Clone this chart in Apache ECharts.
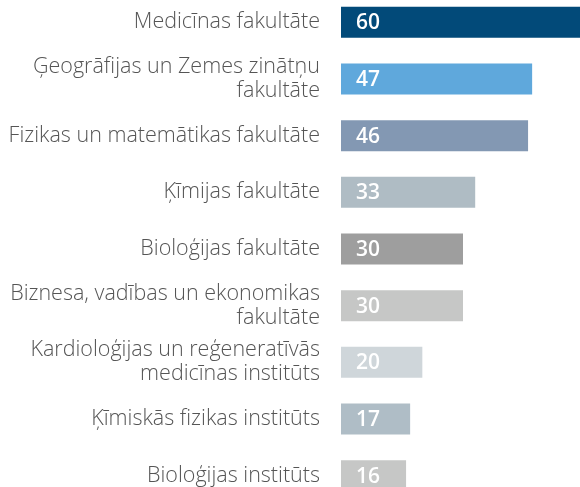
<!DOCTYPE html>
<html>
<head>
<meta charset="utf-8">
<script src="https://cdn.jsdelivr.net/npm/echarts@6/dist/echarts.min.js"></script>
<style>html,body{margin:0;padding:0;background:#fff;overflow:hidden}#c{width:580px;height:487px}</style>
</head>
<body>
<div id="c"></div>
<script>
const categories = [
  "Medicīnas fakultāte",
  "Ģeogrāfijas un Zemes zinātņu\nfakultāte",
  "Fizikas un matemātikas fakultāte",
  "Ķīmijas fakultāte",
  "Bioloģijas fakultāte",
  "Biznesa, vadības un ekonomikas\nfakultāte",
  "Kardioloģijas un reģeneratīvās\nmedicīnas institūts",
  "Ķīmiskās fizikas institūts",
  "Bioloģijas institūts"
];
const values = [60, 47, 46, 33, 30, 30, 20, 17, 16];
const colors = ["#024A79", "#5FA8DC", "#8398B3", "#AFBCC4", "#9E9E9E", "#C6C7C6", "#CFD6DA", "#AFBDC6", "#C6C7C6"];

const chart = echarts.init(document.getElementById('c'), null, {renderer: 'canvas'});
chart.setOption({
  animation: false,
  grid: {left: 341, right: -5, top: -6, bottom: -17, containLabel: false, outerBoundsMode: 'none'},
  xAxis: {type: 'value', min: 0, max: 60, show: false},
  yAxis: {
    type: 'category', data: categories, inverse: true,
    axisLine: {show: false}, axisTick: {show: false}, splitLine: {show: false},
    axisLabel: {
      margin: 21, fontFamily: 'Open Sans', fontWeight: 300, fontSize: 21.5, color: '#555555',
      align: 'right', lineHeight: 24, interval: 0
    }
  },
  series: [{
    type: 'bar', barWidth: 31, clip: false,
    data: values.map((v, i) => ({value: v, itemStyle: {color: colors[i]}})),
    label: {
      show: true, position: 'insideLeft', offset: [10, 1],
      color: '#fff', fontFamily: 'Open Sans', fontWeight: 600, fontSize: 21
    }
  }]
});
</script>
</body>
</html>
